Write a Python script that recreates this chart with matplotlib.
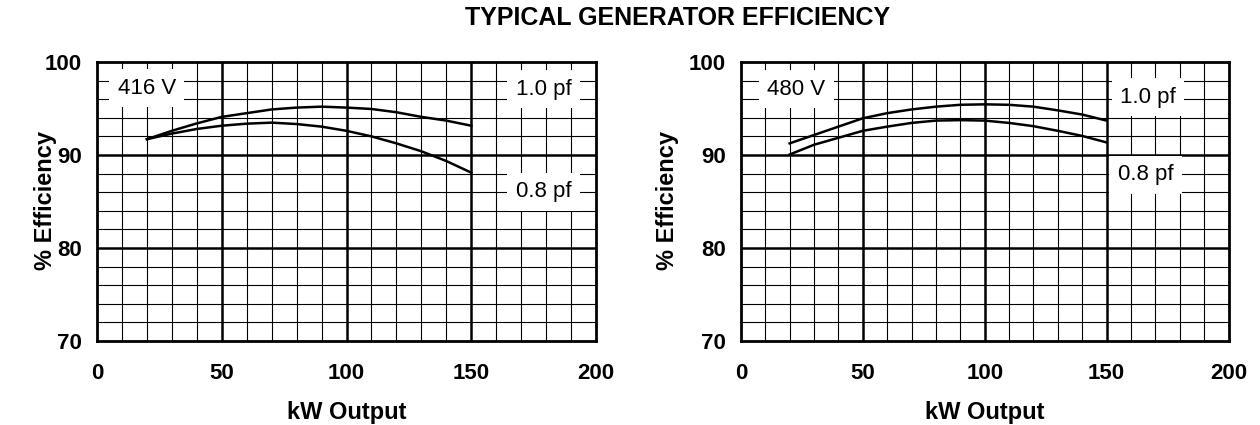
"""Typical generator efficiency curves, 416 V and 480 V."""

import matplotlib
matplotlib.use("Agg")
import matplotlib.pyplot as plt
import numpy as np

plt.rcParams["font.family"] = ["Liberation Sans", "DejaVu Sans"]

KW = [20, 30, 40, 50, 60, 70, 80, 90, 100, 110, 120, 130, 140, 150]

EFF_416_PF10 = [91.7, 92.6, 93.4, 94.1, 94.5, 94.9, 95.1, 95.2, 95.1, 94.95, 94.6, 94.1, 93.7, 93.15]
EFF_416_PF08 = [91.7, 92.3, 92.8, 93.15, 93.37, 93.48, 93.33, 93.05, 92.6, 92.0, 91.25, 90.4, 89.35, 88.1]

EFF_480_PF10 = [91.25, 92.15, 93.05, 93.95, 94.5, 94.9, 95.2, 95.4, 95.45, 95.4, 95.2, 94.8, 94.35, 93.7]
EFF_480_PF08 = [90.05, 91.1, 91.85, 92.6, 93.05, 93.45, 93.7, 93.75, 93.7, 93.45, 93.1, 92.6, 92.05, 91.35]

X_TICKS = [0, 50, 100, 150, 200]
Y_TICKS = [70, 80, 90, 100]

PANELS = [
    {"volt": "416 V", "volt_xy": (20, 97.2), "pf10": EFF_416_PF10, "pf08": EFF_416_PF08,
     "pf10_xy": (179, 97.1), "pf08_xy": (179, 86.05), "ylabel_x": -0.104},
    {"volt": "480 V", "volt_xy": (22.8, 97.1), "pf10": EFF_480_PF10, "pf08": EFF_480_PF08,
     "pf10_xy": (167, 96.2), "pf08_xy": (166, 87.85), "ylabel_x": -0.15},
]


def _draw_panel(axis, panel):
    axis.set_xlim(0, 200)
    axis.set_ylim(70, 100)
    # fine grid, then the heavier major lines
    for x in np.arange(10, 200, 10):
        major = x % 50 == 0
        axis.axvline(x, color="black", linewidth=1.8 if major else 0.8, zorder=1)
    for y in np.arange(72, 100, 2):
        major = y % 10 == 0
        axis.axhline(y, color="black", linewidth=1.8 if major else 0.8, zorder=1)
    axis.plot(KW, panel["pf10"], color="black", linewidth=1.8, zorder=3)
    axis.plot(KW, panel["pf08"], color="black", linewidth=1.8, zorder=3)

    box = dict(facecolor="white", edgecolor="none", pad=6)
    for label, key in [(panel["volt"], "volt_xy"), ("1.0 pf", "pf10_xy"), ("0.8 pf", "pf08_xy")]:
        axis.text(*panel[key], label, ha="center", va="center", fontsize=16,
                  bbox=box, zorder=4)

    axis.set_xticks(X_TICKS)
    axis.set_yticks(Y_TICKS)
    axis.tick_params(length=0, labelsize=16)
    axis.tick_params(axis="y", pad=11)
    axis.tick_params(axis="x", pad=16)
    for lab in axis.get_xticklabels() + axis.get_yticklabels():
        lab.set_fontweight("bold")
    for spine in axis.spines.values():
        spine.set_linewidth(2.0)
        spine.set_zorder(5)
    axis.set_xlabel("kW Output", fontsize=17, fontweight="bold")
    axis.set_ylabel("% Efficiency", fontsize=17, fontweight="bold")
    axis.xaxis.set_label_coords(0.5, -0.258)
    axis.yaxis.set_label_coords(panel["ylabel_x"], 0.505)
    axis.xaxis.label.set_va("center")
    axis.yaxis.label.set_va("center")


fig = plt.figure(figsize=(12.6, 4.25), dpi=100)
ax_left = fig.add_axes([0.077, 0.198, 0.396, 0.656])
ax_right = fig.add_axes([0.588, 0.198, 0.387, 0.656])
for axis, panel in zip([ax_left, ax_right], PANELS):
    _draw_panel(axis, panel)

fig.text(0.538, 0.958, "TYPICAL GENERATOR EFFICIENCY", ha="center", va="center",
         fontsize=18, fontweight="bold")

fig.savefig("out.png", dpi=100)
